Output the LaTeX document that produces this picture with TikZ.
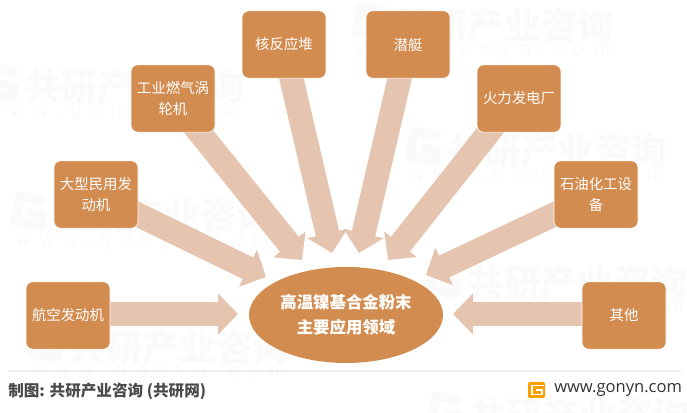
\documentclass[tikz,border=0pt]{standalone}
\usepackage{fontspec}
\setmainfont{Noto Sans CJK SC}
\newfontfamily\latinfont{Open Sans}
\newfontfamily\wmlatin[LetterSpace=45]{Liberation Sans}
\usetikzlibrary{arrows.meta,calc,shapes.geometric}
\pgfdeclarelayer{mark}
\pgfdeclarelayer{arrowlayer}
\pgfsetlayers{mark,arrowlayer,main}
\definecolor{boxc}{HTML}{D38C4F}
\definecolor{arrc}{HTML}{E5C4B0}
\definecolor{wmc}{HTML}{FAFAFA}
\definecolor{foot}{HTML}{4A4A4A}
\tikzset{
  appbox/.style={draw=white,line width=0.5pt,fill=boxc,rounded corners=5pt,minimum width=63pt,minimum height=50.5pt,
    align=center,text=white,font=\fontsize{10.8pt}{16pt}\selectfont,inner sep=0pt},
  hubnode/.style={ellipse,fill=boxc,minimum width=145.5pt,minimum height=72pt,inner sep=0pt,align=center,text=white,
    font=\fontsize{12.3pt}{19pt}\selectfont\bfseries},
  fatarrow/.style={draw=arrc,line width=18pt,-{Triangle[width=30pt,length=15pt,fill=arrc]}},
  wmtext/.style={text=wmc,font=\fontsize{27.5pt}{28pt}\selectfont\bfseries,inner sep=0pt,anchor=west},
  wmurl/.style={text=wmc,font=\fontsize{15pt}{15pt}\selectfont\wmlatin,inner sep=0pt,anchor=west},
}
% watermark tile: name, x, y of the left end
\newcommand{\wmtile}[3]{%
  \begin{scope}[shift={(#2,#3)},rotate=-11]
    \draw[wmc,line width=7pt,line join=round] (30,-13) -- (4,-13) -- (4,13) -- (30,13) -- (30,2) -- (14,2);
    \node[wmtext] (#1a) at (40,0) {共研产业咨询};
    \node[wmurl] (#1b) at (8,33) {www.gonyn.com};
  \end{scope}}
\begin{document}
\begin{tikzpicture}[x=0.75pt,y=-0.75pt]
\useasboundingbox (0,0) rectangle (687,413);
\begin{pgfonlayer}{mark}
  \wmtile{wa}{-15}{79}
  \wmtile{wb}{14}{208}
  \wmtile{wc}{355}{18}
  \wmtile{wd}{408}{143}
  \wmtile{we}{30}{340}
  \wmtile{wf}{428}{275}
  \wmtile{wg}{430}{408}
\end{pgfonlayer}

\node[appbox] (air) at (68,315.5) {航空发动机};
\node[appbox] (civil) at (96,194.5) {大型民用发\\动机};
\node[appbox] (gas) at (173,98.5) {工业燃气涡\\轮机};
\node[appbox] (core) at (284,44.5) {核反应堆};
\node[appbox] (sub) at (408,44.5) {潜艇};
\node[appbox] (fire) at (519,98.5) {火力发电厂};
\node[appbox] (oil) at (596,194.5) {石油化工设\\备};
\node[appbox] (other) at (624,315.5) {其他};
\node[hubnode] (hub) at (346,315) {高温镍基合金粉末\\主要应用领域};

\coordinate (tipair) at ($(hub)+(-108,-1)$);
\coordinate (tipcivil) at ($(hub)+(-80,-38)$);
\coordinate (tipgas) at ($(hub)+(-44,-55)$);
\coordinate (tipcore) at ($(hub)+(-14,-62)$);
\coordinate (tipsub) at ($(hub)+(13,-62)$);
\coordinate (tipfire) at ($(hub)+(42,-55)$);
\coordinate (tipoil) at ($(hub)+(80,-40)$);
\coordinate (tipother) at ($(hub)+(107,-1)$);

\begin{pgfonlayer}{arrowlayer}
  \draw[fatarrow] ($(air.east)+(-6,-1.5)$) -- (tipair);
  \draw[fatarrow] ($(civil.east)+(-8,16.5)$) -- (tipcivil);
  \draw[fatarrow] ($(gas.south)+(20.2,-7.8)$) -- (tipgas);
  \draw[fatarrow] ($(core.south)+(5.5,-8)$) -- (tipcore);
  \draw[fatarrow] ($(sub.south)+(-6.5,-8)$) -- (tipsub);
  \draw[fatarrow] ($(fire.south)+(-24,-8)$) -- (tipfire);
  \draw[fatarrow] ($(oil.west)+(8,16.5)$) -- (tipoil);
  \draw[fatarrow] ($(other.west)+(6,-1.5)$) -- (tipother);
\end{pgfonlayer}

% footer
\coordinate (ruleL) at (8,371);
\coordinate (ruleR) at (681,371);
\draw[color=black!7,line width=0.8pt] (ruleL) -- (ruleR);
\node[anchor=west,inner sep=0pt,text=foot,font=\fontsize{11.7pt}{13pt}\selectfont\bfseries] (source) at (8,391) {制图: 共研产业咨询 (共研网)};
\fill[orange!75!yellow,rounded corners=1.5pt] (528,382) rectangle (545,398);
\draw[white,line width=1.3pt] (544,385.5) -- (532,385.5) -- (532,394.5) -- (542,394.5) -- (542,390) -- (536,390);
\node[anchor=west,inner sep=0pt,text=black!80,font=\fontsize{12.4pt}{14pt}\selectfont\latinfont] (site) at (554,390) {www.gonyn.com};
\end{tikzpicture}
\end{document}
